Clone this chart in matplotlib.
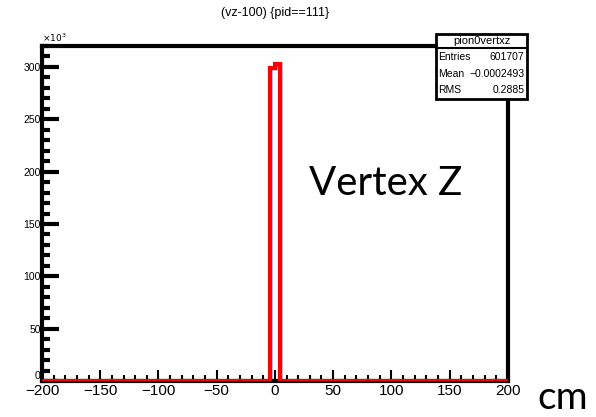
import numpy as np
import matplotlib.pyplot as plt
from matplotlib.patches import Rectangle
from matplotlib.ticker import MultipleLocator, FuncFormatter

# histogram of (vz-100) for pid==111, 100 bins over [-200, 200]
bin_edges = np.linspace(-200, 200, 101)
bin_counts = np.zeros(100)
bin_counts[49] = 299000   # [-4, 0)
bin_counts[50] = 302707   # [0, 4)

hist_name = "pion0vertxz"
entries = 601707
mean = -0.0002493
rms = 0.2885

fig = plt.figure(figsize=(5.96, 4.17), dpi=100)
ax = fig.add_axes([0.0705, 0.0863, 0.7815, 0.8034])

# blue histogram underneath, red outline on top
ax.stairs(bin_counts, bin_edges, color="#00007f", linewidth=2.5)
ax.stairs(bin_counts, bin_edges, color="red", linewidth=3, zorder=3)

ax.set_xlim(-200, 200)
ax.set_ylim(0, 320000)

ax.xaxis.set_major_locator(MultipleLocator(50))
ax.xaxis.set_minor_locator(MultipleLocator(10))
ax.yaxis.set_major_locator(MultipleLocator(50000))
ax.yaxis.set_minor_locator(MultipleLocator(10000))
ax.yaxis.set_major_formatter(FuncFormatter(lambda v, p: "%d" % (v / 1000)))
ax.xaxis.set_major_formatter(FuncFormatter(lambda v, p: ("%d" % v).replace("-", "\u2212")))

ax.tick_params(axis="both", which="both", direction="in", top=False, right=False,
               width=1.5)
ax.tick_params(axis="y", which="major", length=12, width=3, labelsize=7.5, pad=1)
ax.tick_params(axis="y", which="minor", length=6, width=3)
ax.tick_params(axis="x", which="major", length=8, width=1.5, labelsize=11, pad=2)
ax.tick_params(axis="x", which="minor", length=4, width=1.5)
for lbl in ax.get_xticklabels() + ax.get_yticklabels():
    lbl.set_fontfamily("Liberation Sans")
# lift the y "0" label a little off the x labels
ax.get_yticklabels()[1].set_verticalalignment("bottom")

for side in ["left", "top", "right", "bottom"]:
    ax.spines[side].set_linewidth(3)

ax.text(0.0, 1.005, r"$\times10^{3}$", transform=ax.transAxes, fontsize=6.5,
        ha="left", va="bottom", family="Liberation Sans")

fig.text(0.462, 0.97, "(vz-100) {pid==111}", ha="center", va="center",
         fontsize=9, family="Liberation Sans")

# stats box
bx0, by0, bw, bh = 0.7315, 0.763, 0.1527, 0.155
fig.patches.append(Rectangle((bx0, by0), bw, bh, transform=fig.transFigure,
                             facecolor="white", edgecolor="black", linewidth=2, zorder=5))
sep = 0.885
fig.add_artist(plt.Line2D([bx0, bx0 + bw], [sep, sep], transform=fig.transFigure,
                          color="black", linewidth=1.5, zorder=6))
fig.text(bx0 + bw / 2, (sep + by0 + bh) / 2, hist_name, ha="center", va="center",
         fontsize=8, family="Liberation Sans", zorder=7)
rows = [("Entries", "%d" % entries), ("Mean", ("%.7f" % mean).replace("-", "\u2212")),
        ("RMS", "%.4f" % rms)]
row_y = [0.863, 0.823, 0.783]
for (k, v), yy in zip(rows, row_y):
    fig.text(bx0 + 0.004, yy, k, ha="left", va="center", fontsize=7.5,
             family="Liberation Sans", zorder=7)
    fig.text(bx0 + bw - 0.004, yy, v, ha="right", va="center", fontsize=7.5,
             family="Liberation Sans", zorder=7)

fig.text(0.518, 0.561, "Vertex Z", fontsize=29, family="Lato", ha="left", va="center")
fig.text(0.902, 0.045, "cm", fontsize=28, family="Lato", ha="left", va="center")

fig.savefig("out.png", dpi=100)
